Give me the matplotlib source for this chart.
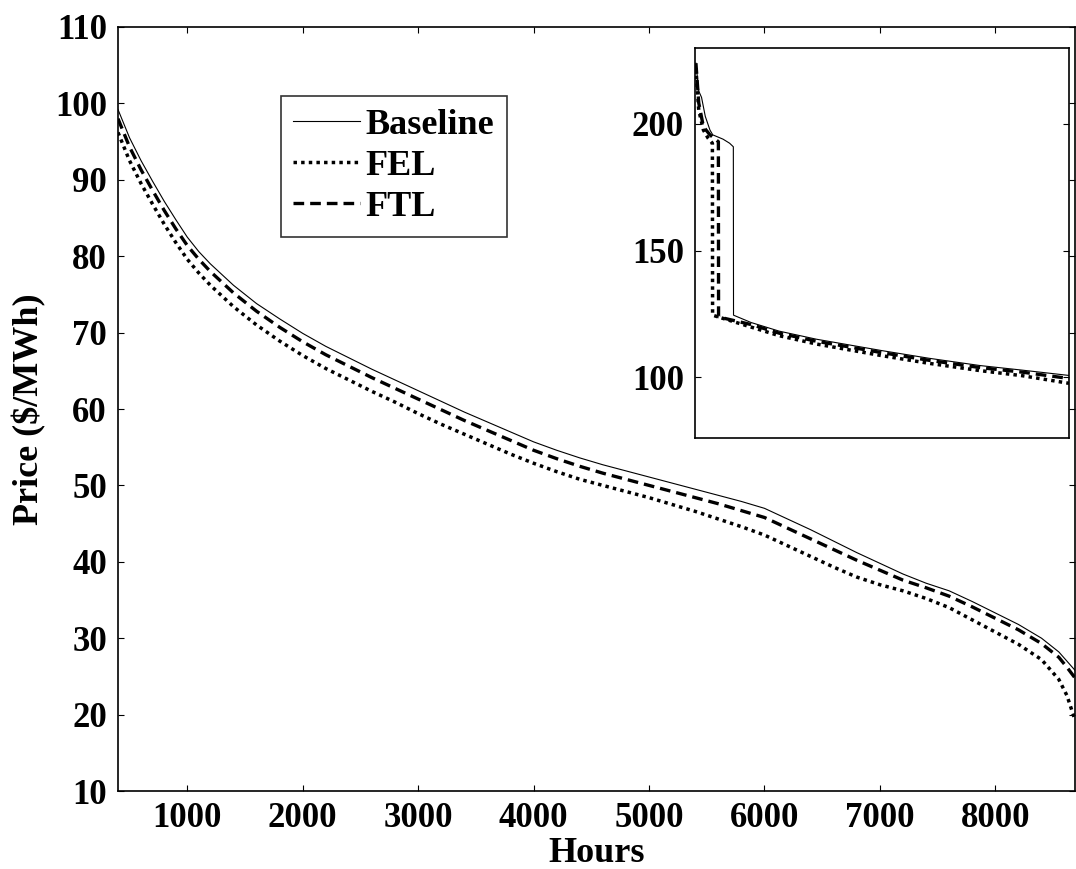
import numpy as np
import matplotlib
matplotlib.use("Agg")
import matplotlib.pyplot as plt

plt.rcParams['font.family'] = ['Liberation Serif', 'DejaVu Serif']
plt.rcParams['font.weight'] = 'bold'
plt.rcParams['mathtext.default'] = 'regular'

# price duration curves, main view (hours 400..end)
hours = [400, 500, 600, 700, 800, 900, 1000, 1100, 1200, 1400, 1600, 1800, 2000,
         2200, 2400, 2600, 2800, 3000, 3200, 3400, 3600, 3800, 4000, 4200, 4400,
         4600, 4800, 5000, 5200, 5400, 5600, 5800, 6000, 6200, 6400, 6600, 6800,
         7000, 7200, 7400, 7600, 7800, 8000, 8200, 8400, 8550, 8620, 8690]
baseline = [99.2, 95.5, 92.5, 89.8, 87.2, 84.8, 82.5, 80.6, 79.0, 76.2, 73.8, 71.8, 69.9,
            68.2, 66.7, 65.2, 63.8, 62.4, 61.0, 59.6, 58.3, 57.0, 55.7, 54.6, 53.6,
            52.7, 51.9, 51.1, 50.3, 49.5, 48.7, 47.9, 47.0, 45.6, 44.2, 42.7, 41.2,
            39.8, 38.4, 37.2, 36.2, 34.8, 33.3, 31.8, 30.0, 28.2, 27.0, 25.8]
ftl = [98.0, 94.3, 91.3, 88.6, 86.0, 83.6, 81.4, 79.6, 78.0, 75.2, 72.8, 70.7, 68.8,
       67.1, 65.6, 64.1, 62.7, 61.3, 59.9, 58.5, 57.2, 55.9, 54.6, 53.5, 52.5,
       51.6, 50.8, 50.0, 49.2, 48.4, 47.6, 46.7, 45.8, 44.4, 43.0, 41.6, 40.2,
       38.9, 37.6, 36.6, 35.5, 34.1, 32.6, 31.1, 29.3, 27.5, 26.2, 24.8]
fel = [96.2, 92.5, 89.5, 86.8, 84.2, 81.8, 79.6, 77.8, 76.2, 73.4, 71.0, 68.9, 67.0,
       65.3, 63.8, 62.3, 60.9, 59.4, 58.0, 56.7, 55.4, 54.1, 52.9, 51.8, 50.8,
       50.0, 49.2, 48.4, 47.5, 46.6, 45.6, 44.6, 43.5, 42.1, 40.7, 39.3, 38.0,
       37.0, 36.2, 35.2, 34.0, 32.4, 30.8, 29.2, 27.2, 24.6, 22.5, 19.3]

# inset: first 400 hours
hours_in_base = [1, 4, 7, 11, 16, 19, 30, 37, 41, 41.2, 60, 90, 130, 200, 250, 305, 350, 400]
base_in = [224, 213, 210.5, 203, 197.6, 195.7, 194, 192.4, 191, 124.5, 121.6, 118.2, 115, 110.5, 107.5, 104.6, 102.8, 100.7]
hours_in_ftl = [1, 4, 9, 16, 25, 25.2, 60, 90, 130, 200, 250, 305, 350, 400]
ftl_in = [224, 208.3, 198.9, 195.7, 193, 123.8, 120.8, 117.4, 114.2, 109.7, 106.7, 103.8, 102, 99.5]
hours_in_fel = [1, 4, 9, 14, 18.6, 18.8, 60, 90, 130, 200, 250, 305, 350, 400]
fel_in = [222, 205.5, 197.6, 194.4, 192.4, 124.5, 119.8, 116.4, 113.1, 108.5, 105.5, 102.6, 100.6, 97.6]

DOT = (0, (1, 1.2))
DASH = (0, (3.2, 1.8))

fig = plt.figure(figsize=(10.76, 8.69), dpi=100)
ax = fig.add_axes([118/1076, 78/869, 957/1076, 764/869])

ax.plot(hours, baseline, color='black', lw=0.8, label='Baseline')
ax.plot(hours, fel, color='black', lw=2.5, ls=DOT, label='FEL')
ax.plot(hours, ftl, color='black', lw=2.4, ls=DASH, label='FTL')

ax.set_xlim(400, 8690)
ax.set_ylim(10, 110)
ax.set_xticks(range(1000, 9000, 1000))
ax.set_yticks(range(10, 120, 10))
ax.tick_params(direction='in', top=True, right=True, length=4, width=0.8,
               labelsize=25, pad=8)
for lab in ax.get_xticklabels() + ax.get_yticklabels():
    lab.set_fontweight('bold')
for s in ax.spines.values():
    s.set_linewidth(1.2)
ax.set_xlabel('Hours', fontsize=26, fontweight='bold', labelpad=1)
ax.set_ylabel('Price ($/MWh)', fontsize=26, fontweight='bold', labelpad=6)

leg = ax.legend(loc='upper left', bbox_to_anchor=(0.170, 0.91), borderaxespad=0,
                fontsize=26, frameon=True, fancybox=False, edgecolor='black',
                handlelength=1.85, handletextpad=0.15, labelspacing=0.22,
                borderpad=0.35)
leg.get_frame().set_linewidth(1.2)
for t in leg.get_texts():
    t.set_fontweight('bold')

# inset
axi = fig.add_axes([695/1076, (869-438)/869, 374/1076, 390/869])
axi.plot(hours_in_base, base_in, color='black', lw=0.8)
axi.plot(hours_in_fel, fel_in, color='black', lw=2.5, ls=DOT)
axi.plot(hours_in_ftl, ftl_in, color='black', lw=2.4, ls=DASH)
axi.set_xlim(0, 400)
axi.set_ylim(76, 230)
axi.set_xticks([])
axi.set_yticks([100, 150, 200])
axi.tick_params(direction='in', right=True, length=4, width=0.8, labelsize=25, pad=8)
for lab in axi.get_yticklabels():
    lab.set_fontweight('bold')
for s in axi.spines.values():
    s.set_linewidth(1.2)

fig.savefig('out.png', dpi=100)
